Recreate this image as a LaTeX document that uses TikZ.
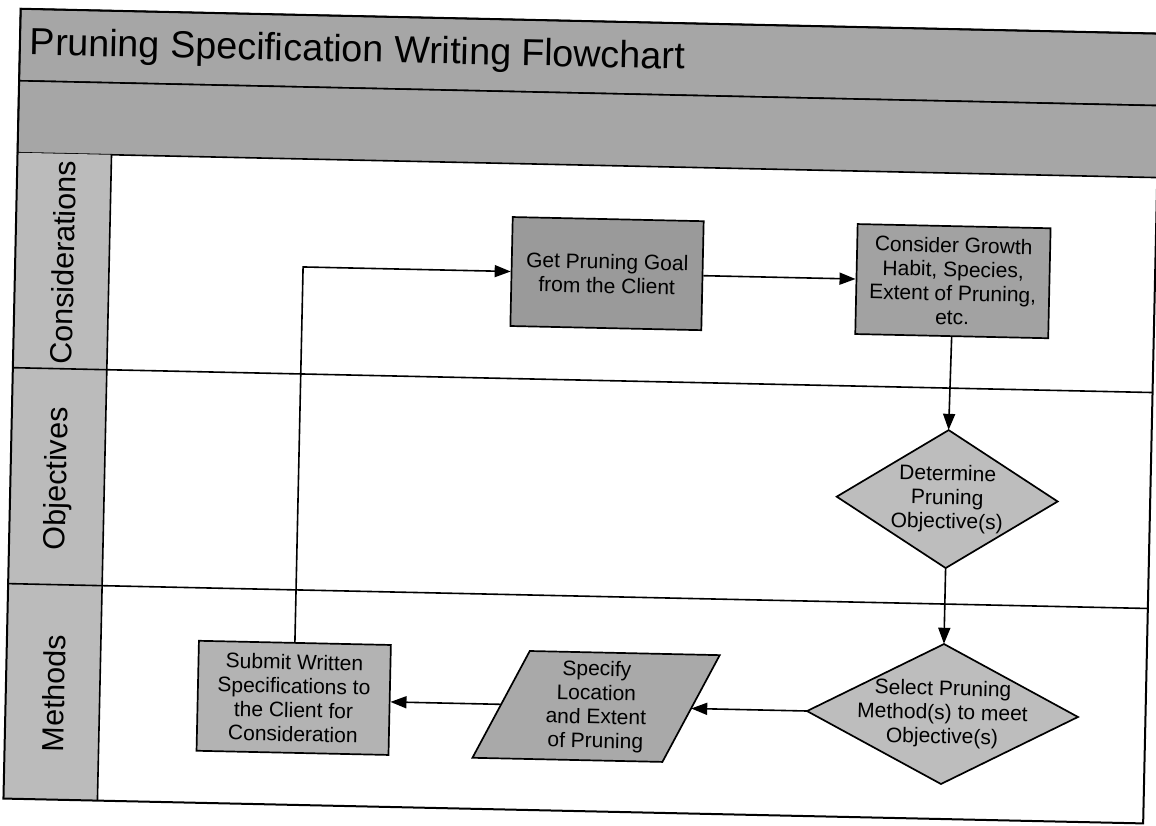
\documentclass[tikz,border=0pt]{standalone}
\usepackage{fontspec}
\setmainfont{Liberation Sans}
\usetikzlibrary{arrows.meta,calc}
\definecolor{bandgray}{HTML}{A6A6A6}
\definecolor{headgray}{HTML}{BBBBBB}
\definecolor{getgray}{HTML}{9A9A9A}
\definecolor{consgray}{HTML}{A2A2A2}
\definecolor{diagray}{HTML}{BDBDBD}
\definecolor{paragray}{HTML}{A9A9A9}
\definecolor{subgray}{HTML}{B3B3B3}
\begin{document}
\begin{tikzpicture}[x=1pt,y=-1pt,line join=miter,
  ln/.style={line width=1.6pt},
  frame/.style={line width=2pt},
  arr/.style={line width=1.6pt,-{Triangle[length=16pt,width=12pt]}},
  txt/.style={font=\fontsize{21}{24}\selectfont,align=center,inner sep=1pt},
  rbox/.style={txt,draw,line width=1.7pt,fill=#1},
  shapeline/.style={draw,line width=1.7pt,fill=#1},
  lane/.style={font=\fontsize{30.5}{34}\selectfont,rotate=90,inner sep=0pt},
  titletext/.style={font=\fontsize{37.7}{40}\selectfont,anchor=west,inner sep=0pt}]
\useasboundingbox (0,0) rectangle (1156,825);
\fill[white] (0,0) rectangle (1156,825);
\begin{scope}[rotate around={-1.25:(578,412)},transform shape]
  % bands
  \filldraw[fill=bandgray,ln] (12,21) rectangle (1152,93);
  \filldraw[fill=bandgray,ln] (12,93) rectangle (1152,165);
  \fill[headgray] (12,165) rectangle (106,811);
  \draw[ln] (12,380) -- (1152,380);
  \draw[ln] (12,596) -- (1152,596);
  \draw[ln] (106,165) -- (106,811);
  \draw[frame] (12,21) rectangle (1152,811);
  % title and lane labels
  \node[titletext] (title) at (22,57) {Pruning Specification Writing Flowchart};
  \node[lane] (lcons) at (60,274) {Considerations};
  \node[lane] (lobj) at (60,490) {Objectives};
  \node[lane] (lmeth) at (60,705) {Methods};
  % shape outlines drawn directly
  \path[shapeline=diagray] (949,422) -- (1059.5,491) -- (949,560) -- (838.5,491) -- cycle;
  \path[shapeline=diagray] (949,636) -- (1084.5,706) -- (949,776) -- (813.5,706) -- cycle;
  \path[shapeline=paragray] (535,652) -- (725,652) -- (670,760) -- (480,760) -- cycle;
  % nodes
  \node[rbox=getgray,minimum width=191,minimum height=109] (get) at (604,273)
    {Get Pruning Goal\\from the Client};
  \node[rbox=consgray,minimum width=193,minimum height=110] (cons) at (950,273)
    {Consider Growth\\Habit, Species,\\Extent of Pruning,\\etc.};
  \node[txt,minimum width=221,minimum height=138] (obj) at (949,491)
    {Determine\\Pruning\\Objective(s)};
  \node[txt,minimum width=271,minimum height=140] (meth) at (949,706)
    {Select Pruning\\Method(s) to meet\\Objective(s)};
  \node[txt,minimum width=190,minimum height=108] (spec) at (602.5,706)
    {Specify\\Location\\and Extent\\of Pruning};
  \node[rbox=subgray,minimum width=192,minimum height=110] (sub) at (300,704)
    {Submit Written\\Specifications to\\the Client for\\Consideration};
  % connectors
  \draw[arr] (get.east) -- (cons.west);
  \draw[arr] (cons.south) -- (obj.north);
  \draw[arr] (obj.south) -- (meth.north);
  \draw[arr] (meth.west) -- (spec.east);
  \draw[arr] (spec.west) -- (spec.west -| sub.east);
  \draw[arr] (sub.north) |- (get.west);
\end{scope}
\end{tikzpicture}
\end{document}
